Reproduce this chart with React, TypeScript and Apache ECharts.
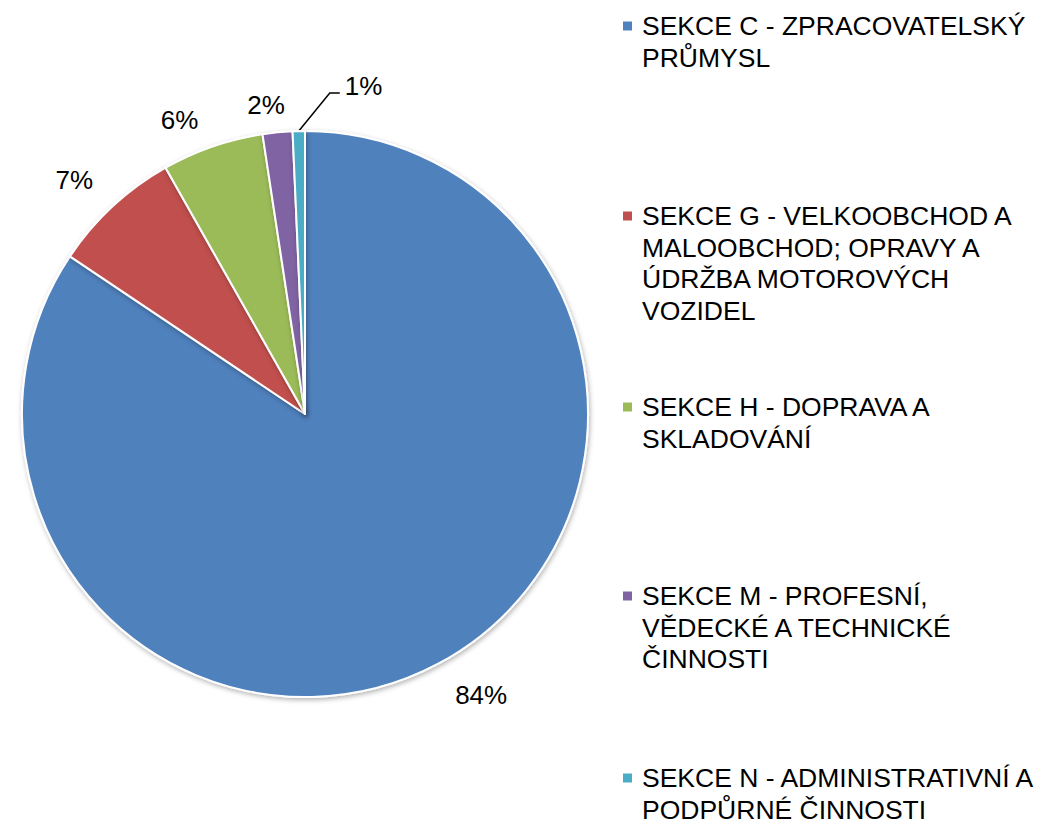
import React, { useEffect, useRef } from "react";
import * as echarts from "echarts";

const categories = [
  "SEKCE C - ZPRACOVATELSKÝ PRŮMYSL",
  "SEKCE G - VELKOOBCHOD A MALOOBCHOD; OPRAVY A ÚDRŽBA MOTOROVÝCH VOZIDEL",
  "SEKCE H - DOPRAVA A SKLADOVÁNÍ",
  "SEKCE M - PROFESNÍ, VĚDECKÉ A TECHNICKÉ ČINNOSTI",
  "SEKCE N - ADMINISTRATIVNÍ A PODPŮRNÉ ČINNOSTI",
];
const legendLabels = [
  "SEKCE C - ZPRACOVATELSKÝ\nPRŮMYSL",
  "SEKCE G - VELKOOBCHOD A\nMALOOBCHOD; OPRAVY A\nÚDRŽBA MOTOROVÝCH\nVOZIDEL",
  "SEKCE H - DOPRAVA A\nSKLADOVÁNÍ",
  "SEKCE M - PROFESNÍ,\nVĚDECKÉ A TECHNICKÉ\nČINNOSTI",
  "SEKCE N - ADMINISTRATIVNÍ A\nPODPŮRNÉ ČINNOSTI",
];
const values = [84.4, 7.4, 5.8, 1.7, 0.7];
const colors = ["#4F81BD", "#C0504D", "#9BBB59", "#8064A2", "#4BACC6"];

// per-slice label placement tuning
const labelLineLengths = [36, 36, 28, 27.5, 0];
const labelDistances = [0, -5, 5, -10, 5];
// legend first-line centre positions
const legendIconCenters = [26, 216, 407, 596, 778];

const FONT = "Liberation Sans";
const LH = 31.5;

export default function App() {
  const ref = useRef<HTMLDivElement>(null);
  useEffect(() => {
    const chart = echarts.init(ref.current!, undefined, { renderer: "svg" });
    const legends = categories.map((name, i) => {
      const n = legendLabels[i].split("\n").length;
      return {
        orient: "vertical",
        left: 621,
        top: legendIconCenters[i] - ((2 * n - 1) * LH) / 2,
        padding: 0,
        itemWidth: 11,
        itemHeight: 11,
        icon: "rect",
        selectedMode: false,
        data: [name],
        // blank lines above keep the first text line level with the marker
        formatter: (nm: string) => {
          const idx = categories.indexOf(nm);
          const lines = legendLabels[idx].split("\n");
          const pad = new Array(lines.length - 1).fill(" ");
          return pad.concat(lines).join("\n");
        },
        textStyle: {
          fontFamily: FONT,
          fontSize: 26.5,
          lineHeight: LH,
          color: "#000",
          padding: [0, 0, 0, 4],
        },
      };
    });
    chart.setOption({
      animation: false,
      color: colors,
      legend: legends,
      series: [
        {
          type: "pie",
          center: [305, 414],
          radius: 283,
          startAngle: 90,
          clockwise: true,
          avoidLabelOverlap: false,
          itemStyle: {
            borderColor: "#fff",
            borderWidth: 2,
            shadowBlur: 5,
            shadowColor: "rgba(0,0,0,0.3)",
            shadowOffsetX: 1,
            shadowOffsetY: 2,
          },
          emphasis: { disabled: true },
          label: {
            show: true,
            position: "outside",
            fontFamily: FONT,
            fontSize: 26,
            color: "#000",
            formatter: (p: any) => Math.round(p.value) + "%",
          },
          labelLine: { show: false, length2: 0 },
          labelLayout: (params: any) => {
            if (params.dataIndex !== 4) return {};
            let p0: number[];
            if (params.labelLinePoints && params.labelLinePoints[0]) {
              p0 = params.labelLinePoints[0];
            } else {
              p0 = [params.rect.x + params.rect.width / 2, params.rect.y];
            }
            const p1 = [p0[0] + 31, p0[1] - 38];
            const p2 = [p1[0] + 10, p1[1]];
            return {
              x: p2[0] + 5,
              y: p2[1] - 7,
              align: "left",
              verticalAlign: "middle",
              labelLinePoints: [p0, p1, p2],
            };
          },
          data: categories.map((name, i) => ({
            name,
            value: values[i],
            label: { distanceToLabelLine: labelDistances[i] },
            labelLine:
              i === 4
                ? { show: true, length: 20, length2: 10, lineStyle: { color: "#000", width: 1.5 } }
                : { show: false, length: labelLineLengths[i], length2: 0 },
          })),
        },
      ],
    });
    return () => chart.dispose();
  }, []);
  return (
    <div
      ref={ref}
      style={{ position: "absolute", left: 0, top: 0, width: 1043, height: 823, background: "#fff" }}
    />
  );
}
